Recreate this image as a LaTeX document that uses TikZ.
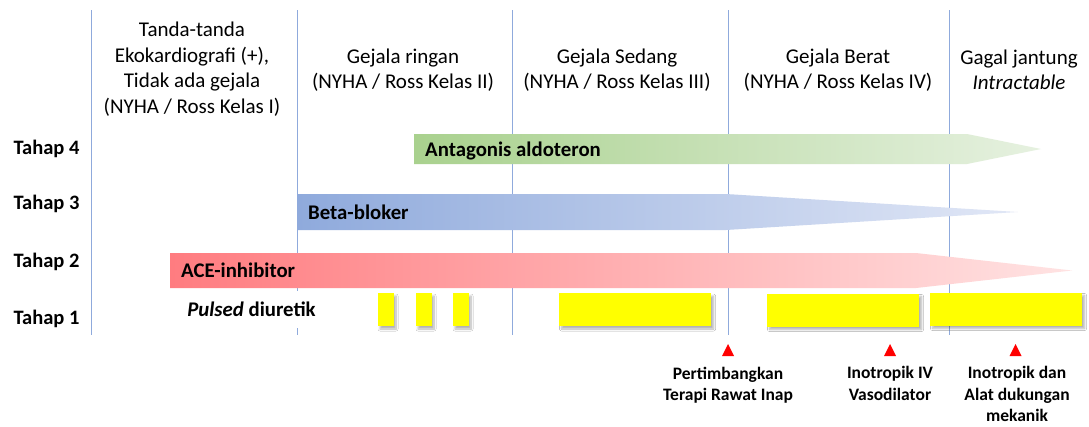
\documentclass[tikz,border=0pt]{standalone}
\usepackage{fontspec}
\setmainfont{Carlito}
\usetikzlibrary{shadows.blur}
\definecolor{gridline}{HTML}{8FAADC}
\definecolor{greenA}{HTML}{A9D18E}
\definecolor{greenB}{HTML}{E6F1E0}
\definecolor{blueA}{HTML}{8FAADC}
\definecolor{blueB}{HTML}{E1E7F6}
\definecolor{redA}{HTML}{FF7C80}
\definecolor{redB}{HTML}{FFE3E3}
\definecolor{pulseyellow}{HTML}{FFFF00}
\begin{document}
\begin{tikzpicture}[x=1pt,y=-1pt,
  hdr/.style={align=center, font=\fontsize{21}{25.5}\selectfont, inner sep=0pt},
  stage/.style={font=\bfseries\fontsize{20.5}{24}\selectfont, inner sep=0pt, anchor=base},
  barlabel/.style={font=\bfseries\fontsize{20.8}{24}\selectfont, inner sep=0pt, anchor=base west},
  pulse/.style={fill=pulseyellow, blur shadow={shadow xshift=2.5pt, shadow yshift=-3pt, shadow blur steps=8, shadow blur radius=2pt, shadow opacity=30}},
  alarm/.style={fill=red},
  note/.style={align=center, font=\bfseries\fontsize{17.5}{21.5}\selectfont, inner sep=0pt, anchor=north},
]
\useasboundingbox[fill=white] (0,0) rectangle (1089,426);

% column separators
\foreach \cx in {91,297,512,728,949}
  \draw[gridline, line width=1pt] (\cx,10) -- (\cx,335);

% column headings
\node[hdr] (h1) at (192,69) {Tanda-tanda\\Ekokardiografi (+),\\Tidak ada gejala\\(NYHA / Ross Kelas I)};
\node[hdr] (h2) at (403,70) {Gejala ringan\\(NYHA / Ross Kelas II)};
\node[hdr] (h3) at (617,70) {Gejala Sedang\\(NYHA / Ross Kelas III)};
\node[hdr] (h4) at (838,70) {Gejala Berat\\(NYHA / Ross Kelas IV)};
\node[hdr] (h5) at (1019,70) {Gagal jantung\\\textit{Intractable}};

% stage labels
\node[stage] (t4) at (46.5,154.5) {Tahap 4};
\node[stage] (t3) at (46.5,209.5) {Tahap 3};
\node[stage] (t2) at (46.5,267.5) {Tahap 2};
\node[stage] (t1) at (46.5,324.5) {Tahap 1};

% therapy arrows, fading to the right
\shade[left color=greenA, right color=greenB]
  (414,134) -- (967,134) -- (1041,149) -- (967,164) -- (414,164) -- cycle;
\shade[left color=blueA, right color=blueB]
  (297,194) -- (726,194) -- (1018,212) -- (726,230) -- (297,230) -- cycle;
\shade[left color=redA, right color=redB]
  (170,253) -- (916,253) -- (1072,270.5) -- (916,288) -- (170,288) -- cycle;

\node[barlabel] (b4) at (425,156) {Antagonis aldoteron};
\node[barlabel] (b3) at (308,219) {Beta-bloker};
\node[barlabel] (b2) at (181,277.5) {ACE-inhibitor};

% diuretic pulses
\node[fill=white, minimum height=37pt, inner xsep=0pt, font=\bfseries\fontsize{20.8}{24}\selectfont] (pd) at (251.5,309.5) {\textit{Pulsed} diuretik};
\fill[pulse] (377.5,293) rectangle (393.5,326);
\fill[pulse] (415.5,293) rectangle (431.5,326);
\fill[pulse] (452.5,293) rectangle (468.5,326);
\fill[pulse] (559,293) rectangle (711,326);
\fill[pulse] (767,293.5) rectangle (919,326.5);
\fill[pulse] (930,292.5) rectangle (1082,325.5);

% escalation markers
\foreach \mx in {728,890,1015.5}
  \fill[alarm] (\mx,344) -- (\mx+6,356) -- (\mx-6,356) -- cycle;

\node[note] (n1) at (728,366.5) {Pertimbangkan\\Terapi Rawat Inap};
\node[note] (n2) at (890,366.5) {Inotropik IV\\Vasodilator};
\node[note] (n3) at (1017,366.5) {Inotropik dan\\Alat dukungan\\mekanik};
\end{tikzpicture}
\end{document}
